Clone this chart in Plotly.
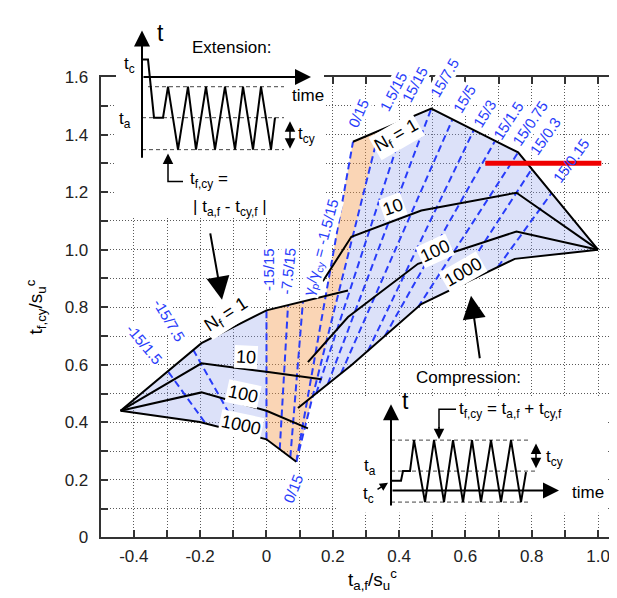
import plotly.graph_objects as go

# ---------------- data (x = t_a,f/su^C , y = t_f,cy/su^C) ----------------
# extension-side failure contours
ext_N1_x = [-0.44, -0.196, 0.0, 0.246]
ext_N1_y = [0.44, 0.675, 0.789, 0.858]
ext_N10_x = [-0.44, -0.196, 0.005, 0.166]
ext_N10_y = [0.44, 0.605, 0.575, 0.55]
ext_N100_x = [-0.44, -0.196, 0.0, 0.125]
ext_N100_y = [0.44, 0.504, 0.44, 0.379]
ext_N1000_x = [-0.44, -0.201, 0.0, 0.09]
ext_N1000_y = [0.44, 0.401, 0.341, 0.263]
# compression-side failure contours
cmp_N1_x = [0.261, 0.497, 0.759, 1.0]
cmp_N1_y = [1.375, 1.49, 1.338, 1.0]
cmp_N10_x = [0.17, 0.256, 0.467, 0.754, 1.0]
cmp_N10_y = [0.89, 1.045, 1.136, 1.198, 1.0]
cmp_N100_x = [0.125, 0.246, 0.457, 0.754, 1.0]
cmp_N100_y = [0.609, 0.766, 0.951, 1.063, 1.0]
cmp_N1000_x = [0.095, 0.256, 0.467, 0.749, 1.0]
cmp_N1000_y = [0.45, 0.598, 0.811, 0.968, 1.0]

# strain-ratio lines (bottom -> top)
ratio_names = ["-15/1.5", "-15/7.5", "-15/15", "-7.5/15", "γ<sub>p</sub>/γ<sub>cy</sub> = -1.5/15",
               "0/15", "1.5/15", "15/15", "15/7.5", "15/5", "15/3", "15/1.5",
               "15/0.75", "15/0.3", "15/0.15"]
ratio_x0 = [-0.186, -0.08, 0.0, 0.04, 0.072, 0.09, 0.09, 0.15, 0.185, 0.225, 0.306, 0.357, 0.457, 0.568, 0.698]
ratio_y0 = [0.40, 0.365, 0.341, 0.306, 0.279, 0.263, 0.263, 0.50, 0.533, 0.57, 0.648, 0.70, 0.80, 0.867, 0.94]
ratio_x1 = [-0.297, -0.221, 0.0, 0.065, 0.11, 0.261, 0.34, 0.42, 0.497, 0.56, 0.625, 0.688, 0.759, 0.80, 0.86]
ratio_y1 = [0.577, 0.652, 0.789, 0.807, 0.82, 1.375, 1.414, 1.453, 1.49, 1.45, 1.415, 1.375, 1.338, 1.28, 1.197]
ratio_lab_x = [-0.367, -0.292, 0.008, 0.065, 0.166, 0.277, 0.382, 0.447, 0.538, 0.598, 0.658, 0.729, 0.794, 0.839, 0.919]
ratio_lab_y = [0.671, 0.755, 0.93, 0.924, 1.007, 1.473, 1.551, 1.574, 1.597, 1.524, 1.473, 1.45, 1.439, 1.395, 1.31]
ratio_lab_angle = [50, 59, -90, -84, -75, -66, -63, -62, -60, -59, -58, -57, -56, -55, -54]
extra_lab_text = ["0/15"]
extra_lab_x = [0.08]
extra_lab_y = [0.171]
extra_lab_angle = [-68]

# contour labels
nf_lab_text = ["N<sub>f</sub> = 1", "10", "100", "1000", "N<sub>f</sub> = 1", "10", "100", "1000"]
nf_lab_x = [-0.121, -0.061, -0.071, -0.076, 0.392, 0.382, 0.508, 0.593]
nf_lab_y = [0.772, 0.626, 0.497, 0.39, 1.395, 1.147, 0.996, 0.923]
nf_lab_angle = [-33, 3, 12, 12, -30, -20, -25, -30]

# red marker line
red_x = [0.66, 1.01]
red_y = [1.3, 1.3]

# axis ticks
x_tickvals = [round(-0.4 + 0.1 * i, 1) for i in range(15)]
x_ticktext = ["-0.4", "", "-0.2", "", "0", "", "0.2", "", "0.4", "", "0.6", "", "0.8", "", "1.0"]
y_tickvals = [round(0.1 * i, 1) for i in range(17)]
y_ticktext = ["0", "", "0.2", "", "0.4", "", "0.6", "", "0.8", "", "1.0", "", "1.2", "", "1.4", "", "1.6"]

# ---------------- schematic insets (canvas pixel space) ----------------
ext_wave_x = [134, 140, 146, 155, 160, 170, 180, 188, 198, 207, 217, 227, 235, 245, 253, 263, 267]
ext_wave_y = [44, 44, 104, 104, 72, 137, 72, 137, 72, 137, 72, 137, 72, 137, 72, 137, 104]
ext_guide_y = [72, 104, 137]
ext_guide_x0 = [140, 134, 134]
ext_guide_x1 = [276, 276, 276]
cmp_wave_x = [383, 393, 395, 402, 406, 417, 426, 436, 445, 455, 464, 473, 483, 493, 503, 513, 518]
cmp_wave_y = [479, 479, 469, 469, 437, 501, 437, 501, 437, 501, 437, 501, 437, 501, 437, 501, 470]
cmp_guide_y = [437, 469, 501]
cmp_guide_x0 = [383, 383, 383]
cmp_guide_x1 = [520, 530, 520]

FONT = "Liberation Sans, Arial, Helvetica, sans-serif"
BLUE = "rgb(40,60,250)"

fig = go.Figure()


def line(x, y, xa="x", ya="y", **kw):
    fig.add_trace(go.Scatter(x=x, y=y, mode="lines", hoverinfo="skip", showlegend=False,
                             xaxis=xa, yaxis=ya, **kw))


def seg_int(p, q, r, s):
    d = (q[0] - p[0]) * (s[1] - r[1]) - (q[1] - p[1]) * (s[0] - r[0])
    if abs(d) < 1e-12:
        return None
    t = ((r[0] - p[0]) * (s[1] - r[1]) - (r[1] - p[1]) * (s[0] - r[0])) / d
    u = ((r[0] - p[0]) * (q[1] - p[1]) - (r[1] - p[1]) * (q[0] - p[0])) / d
    if -1e-9 <= t <= 1 + 1e-9 and -1e-9 <= u <= 1 + 1e-9:
        return (p[0] + t * (q[0] - p[0]), p[1] + t * (q[1] - p[1]))
    return None


def cross(xs, ys, a, b):
    for i in range(len(xs) - 1):
        r = seg_int(a, b, (xs[i], ys[i]), (xs[i + 1], ys[i + 1]))
        if r:
            return r, i
    return None, None


# ---- fills ----
i015 = ratio_names.index("0/15")
i1515 = ratio_names.index("1.5/15")
l015 = ((ratio_x0[i015], ratio_y0[i015]), (ratio_x1[i015], ratio_y1[i015]))
l1515 = ((ratio_x0[i1515], ratio_y0[i1515]), (ratio_x1[i1515], ratio_y1[i1515]))

# extension blue zone
bx = [x for x in ext_N1_x if x <= 0] + [x for x in ext_N1000_x if x <= 0][::-1]
by = [y for x, y in zip(ext_N1_x, ext_N1_y) if x <= 0] + \
     [y for x, y in zip(ext_N1000_x, ext_N1000_y) if x <= 0][::-1]
line(bx, by, fill="toself", fillcolor="rgba(140,155,235,0.30)", line=dict(width=0))

# compression blue zone
p_low, k = cross(cmp_N1000_x, cmp_N1000_y, l1515[0], l1515[1])
cx = [l1515[1][0]] + [x for x in cmp_N1_x if x > l1515[1][0]] + cmp_N1000_x[k + 1:][::-1] + [p_low[0]]
cy = [l1515[1][1]] + [y for x, y in zip(cmp_N1_x, cmp_N1_y) if x > l1515[1][0]] + cmp_N1000_y[k + 1:][::-1] + [p_low[1]]
line(cx, cy, fill="toself", fillcolor="rgba(140,155,235,0.30)", line=dict(width=0))

# transition (orange) zone
p_top, _ = cross(ext_N1_x, ext_N1_y, l015[0], l015[1])
ox = [ext_N1000_x[2], ext_N1_x[2], p_top[0], l015[1][0], l1515[1][0], l1515[0][0]]
oy = [ext_N1000_y[2], ext_N1_y[2], p_top[1], l015[1][1], l1515[1][1], l1515[0][1]]
line(ox, oy, fill="toself", fillcolor="rgba(242,150,70,0.40)", line=dict(width=0))

# ---- dashed strain-ratio lines ----
for i in range(len(ratio_names)):
    line([ratio_x0[i], ratio_x1[i]], [ratio_y0[i], ratio_y1[i]],
         line=dict(color=BLUE, width=2, dash="7px,4px"))

# ---- contours ----
for xs, ys in [(ext_N1_x, ext_N1_y), (ext_N10_x, ext_N10_y), (ext_N100_x, ext_N100_y),
               (ext_N1000_x, ext_N1000_y), (cmp_N1_x, cmp_N1_y), (cmp_N10_x, cmp_N10_y),
               (cmp_N100_x, cmp_N100_y), (cmp_N1000_x, cmp_N1000_y)]:
    line(xs, ys, line=dict(color="black", width=2))

line(red_x, red_y, line=dict(color="rgb(240,0,0)", width=5))

# ---------------- insets on pixel overlay axes ----------------
# white backgrounds
line([108, 316, 316, 108], [0, 0, 206, 206], "x2", "y2", fill="toself", fillcolor="white", line=dict(width=0))
line([330, 600, 600, 330], [392, 392, 512, 512], "x2", "y2", fill="toself", fillcolor="white", line=dict(width=0))

for gy, g0, g1 in zip(ext_guide_y, ext_guide_x0, ext_guide_x1):
    line([g0, g1], [gy, gy], "x2", "y2", line=dict(color="#444", width=1, dash="4px,3px"))
for gy, g0, g1 in zip(cmp_guide_y, cmp_guide_x0, cmp_guide_x1):
    line([g0, g1], [gy, gy], "x2", "y2", line=dict(color="#444", width=1, dash="4px,3px"))
line(ext_wave_x, ext_wave_y, "x2", "y2", line=dict(color="black", width=2))
line(cmp_wave_x, cmp_wave_y, "x2", "y2", line=dict(color="black", width=2))
# L-shaped pointers
line([175, 160, 160], [170, 170, 150], "x2", "y2", line=dict(color="black", width=1.5))
line([448, 431, 431], [405, 405, 425], "x2", "y2", line=dict(color="black", width=1.5))


def arrow(x0, y0, x1, y1, head=2, size=1.0, width=2.0, side="end"):
    fig.add_annotation(x=x1, y=y1, ax=x0, ay=y0, xref="x2", yref="y2", axref="x2", ayref="y2",
                       text="", showarrow=True, arrowhead=head, arrowsize=size, arrowwidth=width,
                       arrowcolor="black", arrowside=side, startarrowhead=head, startarrowsize=size)


# axis arrows
arrow(134, 147, 134, 14, size=1.6)
arrow(134, 62, 303, 62, size=1.6)
arrow(383, 506, 383, 400, size=1.6)
arrow(383, 489, 551, 489, size=1.6)
# t_cy double arrows
arrow(282, 106, 282, 136, size=1.4, width=1.5, side="end+start")
arrow(528, 439, 528, 466, size=1.4, width=1.5, side="end+start")
# pointer heads
arrow(160, 152, 160, 141, size=1.4, width=1.5)
arrow(431, 422, 431, 436, size=1.4, width=1.5)
arrow(368, 489, 380, 481, size=1.1, width=1.5)
# big arrows to curves
arrow(202, 222, 214, 292, size=2.3, width=2)
arrow(472, 354, 463, 288, size=2.3, width=2)


def txt(x, y, s, size=17, xanchor="center", **kw):
    fig.add_annotation(x=x, y=y, xref="x2", yref="y2", text=s, showarrow=False,
                       font=dict(family=FONT, size=size, color="black"), xanchor=xanchor, **kw)


txt(223, 32, "Extension:")
txt(152, 17, "t", size=23)
txt(300, 81, "time")
txt(121, 50, "t<sub>c</sub>")
txt(117, 106, "t<sub>a</sub>")
txt(288, 122, "t<sub>cy</sub>", xanchor="left")
txt(180, 168, "t<sub>f,cy</sub> =", xanchor="left")
txt(222, 197, "| t<sub>a,f</sub> - t<sub>cy,f</sub> |")
txt(460, 372, "Compression:", bgcolor="white")
txt(397, 397, "t", size=23)
txt(580, 491, "time")
txt(362, 465, "t<sub>a</sub>")
txt(360, 494, "t<sub>c</sub>")
txt(536, 455, "t<sub>cy</sub>", xanchor="left")
txt(449, 406, "t<sub>f,cy</sub> = t<sub>a,f</sub> + t<sub>cy,f</sub>", xanchor="left")
# axis titles
txt(28, 300, "t<sub>f,cy</sub>/s<sub>u</sub><sup>c</sup>", size=19, textangle=-90)
txt(364, 581, "t<sub>a,f</sub>/s<sub>u</sub><sup>c</sup>", size=19)

# ---------------- data labels ----------------
for s, x, y, a in zip(nf_lab_text, nf_lab_x, nf_lab_y, nf_lab_angle):
    fig.add_annotation(x=x, y=y, text=s, showarrow=False, textangle=a, bgcolor="white", borderpad=1,
                       font=dict(family=FONT, size=18, color="black"))
for s, x, y, a in zip(ratio_names + extra_lab_text, ratio_lab_x + extra_lab_x,
                      ratio_lab_y + extra_lab_y, ratio_lab_angle + extra_lab_angle):
    fig.add_annotation(x=x, y=y, text=s, showarrow=False, textangle=a,
                       bgcolor="rgba(0,0,0,0)" if s == "15/0.15" else "white", borderpad=0,
                       font=dict(family=FONT, size=15, color=BLUE))

grid = dict(showgrid=True, gridcolor="rgba(60,60,60,0.85)", gridwidth=1, griddash="1px,2px")
fig.update_layout(
    width=617, height=598, margin=dict(l=0, r=0, t=0, b=0),
    paper_bgcolor="white", plot_bgcolor="rgba(0,0,0,0)", showlegend=False,
    font=dict(family=FONT, color="black"),
    xaxis=dict(domain=[92.7 / 617, 1.0], range=[-0.5, 1.0814], tickmode="array",
               tickvals=x_tickvals, ticktext=x_ticktext, ticks="inside", ticklen=7, tickwidth=1.5,
               tickcolor="#333", showline=True, linecolor="#333", linewidth=2, mirror="ticks",
               zeroline=False, tickfont=dict(size=17, color="#222"), ticklabelstandoff=2,
               fixedrange=True, **grid),
    yaxis=dict(domain=[60.5 / 598, 536.0 / 598], range=[0, 1.6], tickmode="array",
               tickvals=y_tickvals, ticktext=y_ticktext, ticks="inside", ticklen=7, tickwidth=1.5,
               tickcolor="#333", showline=True, linecolor="#333", linewidth=2, mirror=False,
               zeroline=False, tickfont=dict(size=17, color="#222"), ticklabelstandoff=7,
               fixedrange=True, **grid),
    xaxis2=dict(domain=[0, 1], range=[0, 617], visible=False, anchor="y2", fixedrange=True),
    yaxis2=dict(domain=[0, 1], range=[598, 0], visible=False, anchor="x2", fixedrange=True),
)

fig.write_html("out.html")
